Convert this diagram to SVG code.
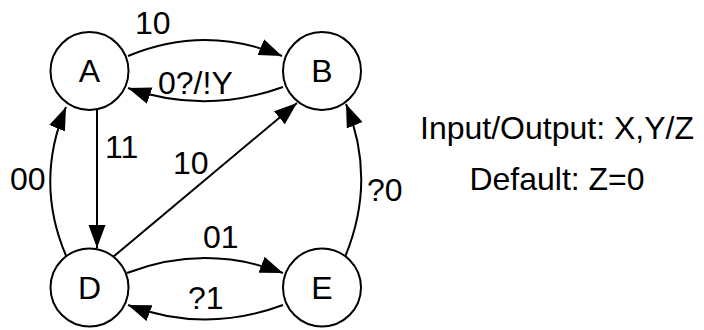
<svg xmlns="http://www.w3.org/2000/svg" width="704" height="330" viewBox="0 0 704 330">
<style>
.node circle{fill:#fff;stroke:#000;stroke-width:2}
text{font-family:"Liberation Sans",Arial,sans-serif;font-size:32px;fill:#000}
.nl{text-anchor:middle}
.edge{fill:none;stroke:#000;stroke-width:2;marker-end:url(#ah)}
</style>
<defs>
<marker id="ah" markerUnits="userSpaceOnUse" markerWidth="24" markerHeight="18" refX="23" refY="8.5" orient="auto" viewBox="0 0 24 17">
<path d="M0,0 L23,8.5 L0,17 z" fill="#000"/>
</marker>
</defs>
<rect width="704" height="330" fill="#fff"/>
<g id="connectors">
<path class="edge" d="M128,56 Q205,24 282,56"/>
<path class="edge" d="M283,87 Q205,115 128,88"/>
<path class="edge" d="M97,110 L97,248"/>
<path class="edge" d="M67,258 Q34,183 66,107"/>
<path class="edge" d="M113,257 L297,103"/>
<path class="edge" d="M127,273 Q205,243 283,273"/>
<path class="edge" d="M283,305 Q205,334 128,305"/>
<path class="edge" d="M345,257 Q377,180 346,104"/>
</g>
<g id="edge-labels">
<text x="135" y="34">10</text>
<text x="158" y="94">0?/!Y</text>
<text x="105" y="158">11</text>
<text x="10" y="190">00</text>
<text x="173" y="174">10</text>
<text x="203" y="248">01</text>
<text x="188" y="309">?1</text>
<text x="367" y="201">?0</text>
</g>
<g id="node-A" class="node"><circle cx="89.5" cy="71" r="39"/><text class="nl" x="89.5" y="82">A</text></g>
<g id="node-B" class="node"><circle cx="322" cy="71" r="39"/><text class="nl" x="322" y="82">B</text></g>
<g id="node-D" class="node"><circle cx="89.5" cy="287.5" r="39"/><text class="nl" x="89.5" y="299">D</text></g>
<g id="node-E" class="node"><circle cx="322" cy="287.5" r="39"/><text class="nl" x="322" y="299">E</text></g>
<g id="legend">
<text class="nl" x="557" y="139">Input/Output: X,Y/Z</text>
<text class="nl" x="557" y="190">Default: Z=0</text>
</g>
</svg>
